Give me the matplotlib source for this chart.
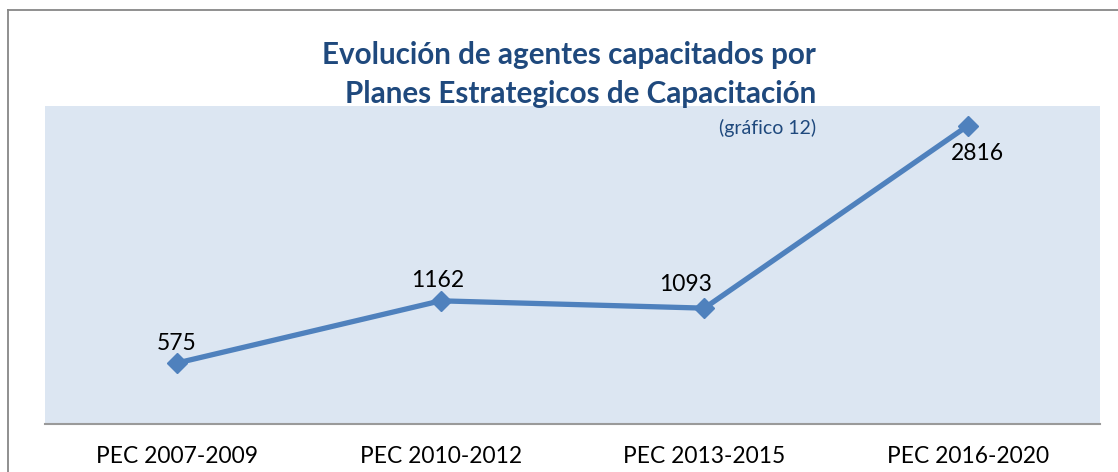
import matplotlib
matplotlib.use("Agg")
import matplotlib.pyplot as plt
from matplotlib.lines import Line2D

categories = ["PEC 2007-2009", "PEC 2010-2012", "PEC 2013-2015", "PEC 2016-2020"]
agentes = [575, 1162, 1093, 2816]
# label offsets (pixels) relative to each point
label_dx = [0, -3, -19, 9]
label_dy = [20, 20, 24, -28]

TITLE_BLUE = "#1F497D"
LINE_BLUE = "#4F81BD"
FONT = ["Lato", "DejaVu Sans"]

W, H = 1118, 472
fig = plt.figure(figsize=(W / 100, H / 100), dpi=100)
fig.patch.set_facecolor("white")

# outer chart border (left and top visible)
fig.add_artist(Line2D([8 / W, 8 / W], [0, 1 - 10 / H], color="#878787", lw=1.3))
fig.add_artist(Line2D([8 / W, 1], [1 - 10 / H, 1 - 10 / H], color="#878787", lw=1.3))

ax = fig.add_axes([45 / W, 48 / H, 1055 / W, 318 / H])
ax.set_facecolor("#DCE6F2")
x = list(range(len(categories)))
ax.plot(x, agentes, color=LINE_BLUE, lw=3.8, marker="D", markersize=10.5,
        solid_joinstyle="round", solid_capstyle="round")

for xi, v, dx, dy in zip(x, agentes, label_dx, label_dy):
    ax.annotate(str(v), (xi, v), xytext=(dx * 0.72, dy * 0.72), textcoords="offset points",
                ha="center", va="center", fontsize=16.5, family=FONT, color="black")

ax.set_xlim(-0.5, 3.5)
ax.set_ylim(0, 3000)
ax.set_xticks(x)
ax.set_xticklabels(categories, fontsize=16.4, family=FONT)
ax.tick_params(axis="x", length=0, pad=16)
ax.set_yticks([])
for s in ["top", "left", "right"]:
    ax.spines[s].set_visible(False)
ax.spines["bottom"].set_color("#9A9A9A")
ax.spines["bottom"].set_linewidth(1.5)

fig.text(816 / W, 1 - 64 / H, "Evolución de agentes capacitados por",
         ha="right", va="baseline", fontsize=21.3, fontweight="bold",
         color=TITLE_BLUE, family=FONT)
fig.text(816 / W, 1 - 103 / H, "Planes Estrategicos de Capacitación",
         ha="right", va="baseline", fontsize=21.3, fontweight="bold",
         color=TITLE_BLUE, family=FONT)
fig.text(816 / W, 1 - 134 / H, "(gráfico 12)", ha="right", va="baseline", fontsize=14,
         color=TITLE_BLUE, family=FONT)

fig.savefig("out.png", dpi=100)
